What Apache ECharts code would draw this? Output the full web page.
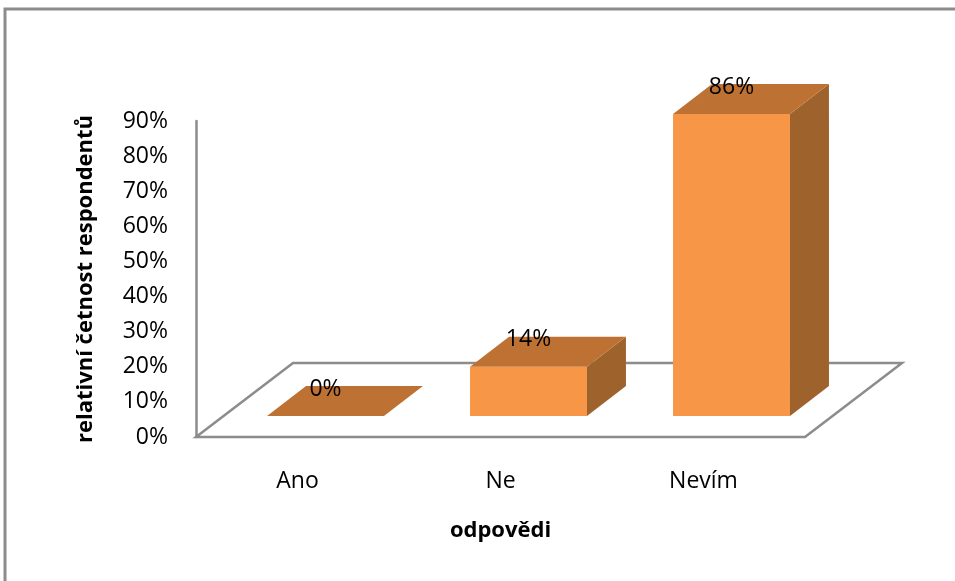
<!DOCTYPE html>
<html>
<head>
<meta charset="utf-8">
<script src="https://cdn.jsdelivr.net/npm/echarts@6/dist/echarts.min.js"></script>
<style>
html,body{margin:0;padding:0;background:#fff;}
#chart{width:955px;height:581px;}
</style>
</head>
<body>
<div id="chart"></div>
<script>
// ---- data ----
const categories = ['Ano', 'Ne', 'Nevím'];
const values = [0, 14, 86];
const yTicks = [0, 10, 20, 30, 40, 50, 60, 70, 80, 90];
const xTitle = 'odpovědi';
const yTitle = 'relativní četnost respondentů';

// ---- styles ----
const FONT = '"Open Sans", "Noto Sans", sans-serif';
const C_FRONT = '#f79646';
const C_TOP = '#bd7234';
const C_SIDE = '#9e622d';
const C_LINE = '#8c8c8c';
// 3D projection offsets (pixels)
const FLOOR_DX = 97, FLOOR_DY = -74;
const BAR_DX = 28, BAR_DY = -21;
const DEPTH_DX = 39, DEPTH_DY = -30;
const BAR_RATIO = 0.576;

const chart = echarts.init(document.getElementById('chart'), null, {renderer: 'canvas'});

function floorItem(params, api) {
  const cs = params.coordSys;
  const x0 = cs.x, x1 = cs.x + cs.width, yb = cs.y + cs.height;
  return {
    type: 'polygon',
    shape: {points: [[x0, yb], [x1, yb], [x1 + FLOOR_DX, yb + FLOOR_DY], [x0 + FLOOR_DX, yb + FLOOR_DY]]},
    style: {fill: '#fff', stroke: C_LINE, lineWidth: 2.5},
    silent: true
  };
}

function barItem(params, api) {
  const ci = api.value(0);
  const v = api.value(1);
  const base = api.coord([ci, 0]);
  const top = api.coord([ci, v]);
  const bw = api.size([1, 0])[0] * BAR_RATIO;
  const xl = base[0] + BAR_DX - bw / 2;
  const xr = xl + bw;
  const yb = base[1] + BAR_DY;
  const yt = top[1] + BAR_DY;
  const children = [];
  if (yb - yt > 0.5) {
    children.push({type: 'rect', shape: {x: xl, y: yt, width: bw, height: yb - yt}, style: {fill: C_FRONT}});
    children.push({type: 'polygon', shape: {points: [[xr, yt], [xr, yb], [xr + DEPTH_DX, yb + DEPTH_DY], [xr + DEPTH_DX, yt + DEPTH_DY]]}, style: {fill: C_SIDE}});
  }
  children.push({type: 'polygon', shape: {points: [[xl, yt], [xr, yt], [xr + DEPTH_DX, yt + DEPTH_DY], [xl + DEPTH_DX, yt + DEPTH_DY]]}, style: {fill: C_TOP}});
  children.push({
    type: 'text',
    style: {
      text: v + '%', x: (xl + xr) / 2, y: yt + DEPTH_DY + 3,
      align: 'center', verticalAlign: 'middle',
      fontSize: 23, fontFamily: FONT, fill: '#000'
    }
  });
  return {type: 'group', children: children};
}

chart.setOption({
  animation: false,
  backgroundColor: '#fff',
  graphic: [{
    type: 'rect', z: 100, silent: true,
    shape: {x: 5, y: 9, width: 1200, height: 1200},
    style: {fill: 'none', stroke: C_LINE, lineWidth: 3}
  }],
  grid: {left: 196, right: 150, top: 121, bottom: 144},
  xAxis: {
    type: 'category',
    data: categories,
    axisLine: {show: false},
    axisTick: {show: false},
    axisLabel: {fontSize: 23, fontFamily: FONT, color: '#000', margin: 33},
    name: xTitle,
    nameLocation: 'middle',
    nameGap: 83,
    nameTextStyle: {fontSize: 22, fontWeight: 'bold', fontFamily: FONT, color: '#000'}
  },
  yAxis: {
    type: 'value',
    min: yTicks[0],
    max: yTicks[yTicks.length - 1],
    interval: yTicks[1] - yTicks[0],
    axisLine: {show: true, lineStyle: {color: C_LINE, width: 2.5}},
    axisTick: {show: false},
    splitLine: {show: false},
    axisLabel: {formatter: '{value}%', fontSize: 23, fontFamily: FONT, color: '#000', margin: 28},
    name: yTitle,
    nameLocation: 'middle',
    nameRotate: 90,
    nameGap: 99,
    nameTextStyle: {fontSize: 22, fontWeight: 'bold', fontFamily: FONT, color: '#000'}
  },
  series: [
    {
      type: 'custom',
      z: 1,
      renderItem: floorItem,
      data: [[0, 0]],
      silent: true
    },
    {
      type: 'custom',
      z: 5,
      renderItem: barItem,
      data: values.map((v, i) => [i, v]),
      encode: {x: 0, y: 1}
    }
  ]
});
</script>
</body>
</html>
